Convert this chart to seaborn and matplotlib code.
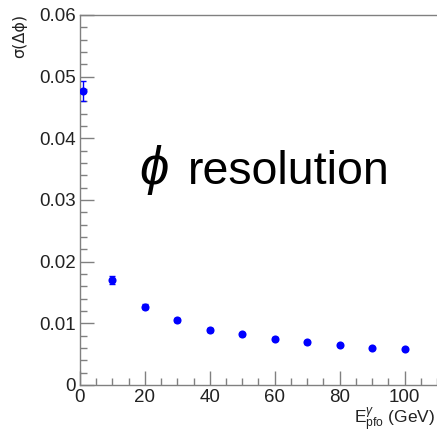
import matplotlib
matplotlib.use("Agg")
import matplotlib.pyplot as plt
from matplotlib.ticker import MultipleLocator, FuncFormatter
import seaborn as sns
import pandas as pd

# Photon PFO energy points (GeV) and azimuthal resolution
energy = [1, 10, 20, 30, 40, 50, 60, 70, 80, 90, 100]
sigma_dphi = [0.0476, 0.0170, 0.0127, 0.0105, 0.0089, 0.0082, 0.0075, 0.0069, 0.0065, 0.0060, 0.0058]
sigma_err = [0.0016, 0.0006, 0.0004, 0.0003, 0.0003, 0.0002, 0.0002, 0.0002, 0.0002, 0.0002, 0.0002]

df = pd.DataFrame({"E": energy, "sigma": sigma_dphi, "err": sigma_err})

sns.set_style("ticks")
plt.rcParams["font.family"] = ["Liberation Sans", "DejaVu Sans"]
plt.rcParams["mathtext.fontset"] = "custom"
plt.rcParams["mathtext.rm"] = "Liberation Sans"
plt.rcParams["mathtext.it"] = "Liberation Sans:italic"

fig = plt.figure(figsize=(4.37, 4.36), dpi=100)
ax = fig.add_axes([0.183, 0.117, 0.817, 0.849])

blue = "#0000ff"
ax.errorbar(df["E"], df["sigma"], yerr=df["err"], fmt="none", ecolor=blue,
            elinewidth=1.0, capsize=2, capthick=1.0, zorder=2)
sns.scatterplot(data=df, x="E", y="sigma", ax=ax, color=blue, s=34,
                edgecolor=blue, linewidth=0, zorder=3, legend=False)

ax.set_xlim(0, 110)
ax.set_ylim(0, 0.06)

ax.xaxis.set_major_locator(MultipleLocator(20))
ax.xaxis.set_minor_locator(MultipleLocator(5))
ax.yaxis.set_major_locator(MultipleLocator(0.01))
ax.yaxis.set_minor_locator(MultipleLocator(0.002))
ax.yaxis.set_major_formatter(FuncFormatter(lambda v, p: "0" if abs(v) < 1e-12 else f"{v:.2f}"))
ax.xaxis.set_major_formatter(FuncFormatter(lambda v, p: f"{v:.0f}"))

spine_col = "#808080"
for side in ["left", "bottom", "top"]:
    ax.spines[side].set_color(spine_col)
    ax.spines[side].set_linewidth(1.0)
ax.spines["right"].set_visible(False)

ax.tick_params(axis="both", which="both", direction="in", color=spine_col,
               labelsize=13.5, labelcolor="#222222", width=1.0)
ax.tick_params(axis="both", which="major", length=10, pad=3)
ax.tick_params(axis="both", which="minor", length=5)
ax.tick_params(top=False, right=False, which="both")

ax.set_xlabel("")
ax.set_ylabel("")
fig.text(0.045, 0.968, r"σ(Δϕ)", rotation=90, ha="center", va="top",
         fontsize=11.5, color="#222222", family=["DejaVu Sans"])
fig.text(0.997, 0.028, r"E$_{\mathrm{pfo}}^{\gamma}$ (GeV)", ha="right", va="baseline",
         fontsize=12.5, color="#222222")

# Annotation: italic phi followed by the word
ax.text(0.166, 0.543, r"$\phi$", transform=ax.transAxes,
        fontsize=38, color="black", ha="left", va="baseline")
ax.text(0.302, 0.543, "resolution", transform=ax.transAxes,
        fontsize=33.5, color="black", ha="left", va="baseline")

fig.savefig("out.png", dpi=100)
